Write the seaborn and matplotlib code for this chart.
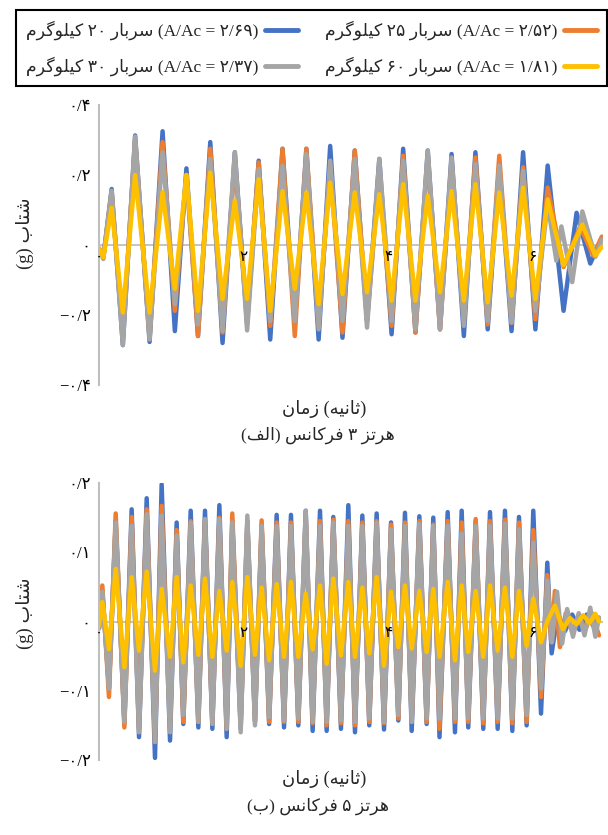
import pandas as pd
import numpy as np
import matplotlib
matplotlib.use('Agg')
import matplotlib.pyplot as plt
from matplotlib.lines import Line2D
import seaborn as sns

# ---- data: extremes of each trace (time s, acceleration g) ----
# (a) 3 Hz : shared times of the steady part, then each series' own decay
t3 = [0.0, 0.06, 0.175, 0.33, 0.50, 0.70, 0.88, 1.05, 1.21, 1.37, 1.54, 1.71, 1.88,
      2.05, 2.21, 2.37, 2.54, 2.71, 2.87, 3.04, 3.20, 3.37, 3.54, 3.71, 3.88, 4.05,
      4.21, 4.38, 4.55, 4.72, 4.88, 5.05, 5.21, 5.38, 5.54, 5.71, 5.87, 6.04, 6.21]

blue3 = [-0.01, -0.035, 0.16, -0.286, 0.313, -0.277, 0.325, -0.246, 0.219, -0.26, 0.294,
         -0.28, 0.265, -0.227, 0.241, -0.27, 0.275, -0.227, 0.275, -0.27, 0.283, -0.265,
         0.27, -0.217, 0.246, -0.255, 0.275, -0.25, 0.27, -0.241, 0.26, -0.26, 0.265,
         -0.241, 0.23, -0.246, 0.265, -0.241, 0.227]
blue3_tail_t = [6.43, 6.61, 6.80, 6.96]
blue3_tail = [-0.188, 0.092, -0.053, 0.02]

orange3 = [-0.01, -0.035, 0.15, -0.265, 0.30, -0.265, 0.294, -0.188, 0.20, -0.26, 0.275,
           -0.25, 0.246, -0.217, 0.236, -0.231, 0.275, -0.26, 0.275, -0.227, 0.227, -0.25,
           0.27, -0.217, 0.207, -0.231, 0.255, -0.25, 0.255, -0.241, 0.236, -0.217, 0.25,
           -0.227, 0.255, -0.222, 0.222, -0.212, 0.164]
orange3_tail_t = [6.43, 6.66, 6.84, 6.96]
orange3_tail = [-0.063, 0.053, -0.03, 0.024]

gray3 = [-0.01, -0.04, 0.155, -0.286, 0.31, -0.27, 0.265, -0.169, 0.2, -0.227, 0.246,
         -0.246, 0.265, -0.244, 0.217, -0.217, 0.227, -0.217, 0.26, -0.241, 0.241, -0.217,
         0.246, -0.236, 0.246, -0.217, 0.241, -0.241, 0.27, -0.241, 0.25, -0.231, 0.231,
         -0.217, 0.227, -0.222, 0.212, -0.188, 0.12]
gray3_tail_t = [6.33, 6.40, 6.55, 6.69, 6.87, 6.96]
gray3_tail = [-0.045, 0.053, -0.106, 0.096, -0.034, 0.015]

yellow3 = [-0.01, -0.035, 0.106, -0.193, 0.20, -0.193, 0.151, -0.125, 0.2, -0.188, 0.207,
           -0.154, 0.127, -0.154, 0.188, -0.188, 0.154, -0.125, 0.15, -0.169, 0.178, -0.14,
           0.15, -0.135, 0.145, -0.159, 0.174, -0.159, 0.14, -0.135, 0.154, -0.159, 0.174,
           -0.164, 0.15, -0.145, 0.164, -0.154, 0.13]
yellow3_tail_t = [6.43, 6.69, 6.87, 6.96]
yellow3_tail = [-0.058, 0.058, -0.03, -0.005]

# (b) 5 Hz
t5 = [0.0, 0.046, 0.138, 0.231, 0.351, 0.452, 0.554, 0.66, 0.775, 0.867, 0.983, 1.075,
      1.167, 1.269, 1.375, 1.467, 1.569, 1.666, 1.767, 1.845, 1.961, 2.053, 2.159, 2.251,
      2.355, 2.459, 2.561, 2.657, 2.759, 2.861, 2.957, 3.059, 3.151, 3.243, 3.349, 3.451,
      3.543, 3.645, 3.741, 3.843, 3.945, 4.042, 4.143, 4.235, 4.328, 4.434, 4.535, 4.627,
      4.713, 4.826, 4.927, 5.02, 5.111, 5.214, 5.319, 5.412, 5.518, 5.619, 5.721, 5.813,
      5.919, 6.011, 6.118, 6.205]

blue5 = [-0.01, 0.044, -0.097, 0.145, -0.147, 0.162, -0.167, 0.178, -0.197, 0.198, -0.172,
         0.143, -0.148, 0.16, -0.153, 0.16, -0.155, 0.168, -0.167, 0.145, -0.155, 0.145,
         -0.145, 0.14, -0.148, 0.154, -0.153, 0.154, -0.15, 0.16, -0.158, 0.16, -0.158,
         0.151, -0.155, 0.168, -0.16, 0.153, -0.15, 0.156, -0.156, 0.143, -0.143, 0.157,
         -0.158, 0.152, -0.148, 0.15, -0.167, 0.158, -0.16, 0.16, -0.153, 0.145, -0.155,
         0.158, -0.155, 0.16, -0.158, 0.151, -0.15, 0.16, -0.133, 0.085]
blue5_tail_t = [6.265, 6.35, 6.45, 6.55, 6.65, 6.75, 6.85, 6.92]
blue5_tail = [-0.046, 0.012, -0.014, 0.01, -0.012, 0.01, -0.008, 0.002]

orange5 = [-0.01, 0.052, -0.109, 0.156, -0.153, 0.151, -0.155, 0.162, -0.174, 0.167, -0.15,
           0.132, -0.145, 0.145, -0.145, 0.147, -0.147, 0.15, -0.155, 0.156, -0.15, 0.145,
           -0.143, 0.146, -0.145, 0.143, -0.145, 0.143, -0.145, 0.153, -0.147, 0.145, -0.15,
           0.147, -0.147, 0.145, -0.15, 0.143, -0.145, 0.145, -0.147, 0.14, -0.14, 0.143,
           -0.145, 0.145, -0.145, 0.14, -0.155, 0.145, -0.145, 0.143, -0.145, 0.148, -0.147,
           0.145, -0.145, 0.147, -0.147, 0.143, -0.145, 0.132, -0.109, 0.067]
orange5_tail_t = [6.26, 6.31, 6.38, 6.46, 6.55, 6.64, 6.73, 6.82, 6.92]
orange5_tail = [-0.03, 0.044, -0.037, 0.012, -0.015, 0.01, -0.012, 0.012, -0.02]

gray5 = [-0.01, 0.043, -0.097, 0.143, -0.145, 0.138, -0.16, 0.155, -0.174, 0.153, -0.16,
         0.124, -0.135, 0.143, -0.145, 0.148, -0.148, 0.148, -0.155, 0.143, -0.16, 0.153,
         -0.15, 0.138, -0.138, 0.138, -0.143, 0.138, -0.14, 0.16, -0.145, 0.138, -0.145,
         0.143, -0.143, 0.138, -0.145, 0.138, -0.14, 0.143, -0.145, 0.133, -0.135, 0.138,
         -0.145, 0.141, -0.14, 0.138, -0.14, 0.138, -0.14, 0.127, -0.14, 0.138, -0.14,
         0.138, -0.14, 0.141, -0.14, 0.133, -0.135, 0.114, -0.097, 0.059]
gray5_tail_t = [6.27, 6.34, 6.41, 6.48, 6.56, 6.64, 6.72, 6.8, 6.87, 6.92]
gray5_tail = [-0.03, 0.043, -0.032, 0.018, -0.022, 0.012, -0.02, 0.02, -0.022, 0.006]

yellow5 = [-0.005, 0.028, -0.04, 0.076, -0.066, 0.064, -0.042, 0.072, -0.071, 0.047, -0.051,
           0.064, -0.059, 0.052, -0.048, 0.062, -0.051, 0.044, -0.042, 0.057, -0.064, 0.064,
           -0.048, 0.049, -0.056, 0.054, -0.051, 0.057, -0.051, 0.04, -0.04, 0.052, -0.061,
           0.062, -0.049, 0.057, -0.051, 0.049, -0.046, 0.064, -0.064, 0.043, -0.037, 0.052,
           -0.039, 0.044, -0.044, 0.047, -0.051, 0.057, -0.056, 0.052, -0.044, 0.044, -0.051,
           0.052, -0.042, 0.049, -0.051, 0.044, -0.035, 0.033, -0.03, 0.0]
yellow5_tail_t = [6.31, 6.42, 6.52, 6.61, 6.7, 6.79, 6.87, 6.92]
yellow5_tail = [0.023, -0.011, 0.005, -0.004, 0.009, -0.002, 0.011, 0.0]

series_keys = ['20kg', '25kg', '30kg', '60kg']
colors = ['#4472C4', '#ED7D31', '#A5A5A5', '#FFC000']
ratios = ['۲/۶۹', '۲/۵۲', '۲/۳۷', '۱/۸۱']
loads = ['۲۰', '۲۵', '۳۰', '۶۰']
y3_ticks = [-0.4, -0.2, 0, 0.2, 0.4]
y3_labels = ['−۰/۴', '−۰/۲', '۰', '۰/۲', '۰/۴']
y5_ticks = [-0.2, -0.1, 0, 0.1, 0.2]
y5_labels = ['−۰/۲', '−۰/۱', '۰', '۰/۱', '۰/۲']
x_ticks = [0, 2, 4, 6]
x_labels = ['۰', '۲', '۴', '۶']

# ---- minimal Persian shaping: the fallback font path draws glyphs left to right as given ----
FORMS = {  # isolated, final, initial, medial
    'ا': ('\ufe8d', '\ufe8e', None, None),
    'ب': ('\ufe8f', '\ufe90', '\ufe91', '\ufe92'),
    'ت': ('\ufe95', '\ufe96', '\ufe97', '\ufe98'),
    'ث': ('\ufe99', '\ufe9a', '\ufe9b', '\ufe9c'),
    'ر': ('\ufead', '\ufeae', None, None),
    'ز': ('\ufeaf', '\ufeb0', None, None),
    'س': ('\ufeb1', '\ufeb2', '\ufeb3', '\ufeb4'),
    'ش': ('\ufeb5', '\ufeb6', '\ufeb7', '\ufeb8'),
    'ف': ('\ufed1', '\ufed2', '\ufed3', '\ufed4'),
    'ل': ('\ufedd', '\ufede', '\ufedf', '\ufee0'),
    'م': ('\ufee1', '\ufee2', '\ufee3', '\ufee4'),
    'ن': ('\ufee5', '\ufee6', '\ufee7', '\ufee8'),
    'ه': ('\ufee9', '\ufeea', '\ufeeb', '\ufeec'),
    'و': ('\ufeed', '\ufeee', None, None),
    'ک': ('\ufb8e', '\ufb8f', '\ufb90', '\ufb91'),
    'گ': ('\ufb92', '\ufb93', '\ufb94', '\ufb95'),
    'ی': ('\ufbfc', '\ufbfd', '\ufbfe', '\ufbff'),
}


def fa(word):
    # shape one Persian word and return it in visual (left-to-right) order
    out = []
    for i, ch in enumerate(word):
        f = FORMS[ch]
        prev = i > 0 and FORMS[word[i - 1]][2] is not None
        nxt = i < len(word) - 1 and f[2] is not None
        if prev and nxt:
            out.append(f[3])
        elif prev:
            out.append(f[1])
        elif nxt:
            out.append(f[2])
        else:
            out.append(f[0])
    return ''.join(reversed(out))


def frame(parts):
    rows = []
    for key, t, a in parts:
        rows.append(pd.DataFrame({'t': t, 'a': a, 's': key}))
    return pd.concat(rows, ignore_index=True)


df3 = frame([
    ('20kg', t3 + blue3_tail_t, blue3 + blue3_tail),
    ('25kg', t3 + orange3_tail_t, orange3 + orange3_tail),
    ('30kg', t3 + gray3_tail_t, gray3 + gray3_tail),
    ('60kg', t3 + yellow3_tail_t, yellow3 + yellow3_tail),
])
df5 = frame([
    ('20kg', t5 + blue5_tail_t, blue5 + blue5_tail),
    ('25kg', t5 + orange5_tail_t, orange5 + orange5_tail),
    ('30kg', t5 + gray5_tail_t, gray5 + gray5_tail),
    ('60kg', t5 + yellow5_tail_t, yellow5 + yellow5_tail),
])

sns.set_theme(style='white')
plt.rcParams['font.family'] = ['Liberation Serif', 'DejaVu Sans']

fig = plt.figure(figsize=(6.08, 8.35), dpi=100)
ax3 = fig.add_axes([99 / 608, 1 - 385 / 835, 504 / 608, 280 / 835])
ax5 = fig.add_axes([99 / 608, 1 - 760 / 835, 504 / 608, 277 / 835])

palette = dict(zip(series_keys, colors))
for ax, df, yt, yl, lim in [(ax3, df3, y3_ticks, y3_labels, 0.4),
                            (ax5, df5, y5_ticks, y5_labels, 0.2)]:
    ax.axhline(0, color='#BFBFBF', lw=1.3, zorder=1)
    sns.lineplot(data=df, x='t', y='a', hue='s', hue_order=series_keys, palette=palette,
                 estimator=None, sort=True, linewidth=3.2, legend=False, ax=ax,
                 solid_joinstyle='round', solid_capstyle='round')
    ax.set_xlim(0, 6.976)
    ax.set_ylim(-lim, lim)
    ax.set_yticks(yt)
    ax.set_yticklabels(yl, fontsize=12)
    ax.set_xticks(x_ticks)
    ax.set_xticklabels(x_labels, fontsize=12)
    ax.tick_params(length=0, pad=6, colors='black')
    ax.tick_params(axis='x', pad=4)
    for side in ['top', 'right']:
        ax.spines[side].set_visible(False)
    ax.spines['bottom'].set_position(('data', 0))
    ax.spines['bottom'].set_visible(False)
    ax.spines['left'].set_color('#BFBFBF')
    ax.spines['left'].set_linewidth(1.5)
    ax.set_xlabel('')
    ax.set_ylabel('')
    ax.patch.set_alpha(0)
    ax.xaxis.set_zorder(5)

ylab = '(g) ' + fa('شتاب')
xlab = fa('زمان') + ' (' + fa('ثانیه') + ')'
fig.text(25 / 608, 1 - 233 / 835, ylab, rotation=90, ha='center', va='center', fontsize=13.5)
fig.text(25 / 608, 1 - 613 / 835, ylab, rotation=90, ha='center', va='center', fontsize=13.5)
fig.text(324 / 608, 1 - 409 / 835, xlab, ha='center', va='center', fontsize=13)
fig.text(324 / 608, 1 - 779 / 835, xlab, ha='center', va='center', fontsize=13)
fig.text(318 / 608, 1 - 435 / 835,
         '(' + fa('الف') + ') ' + fa('فرکانس') + ' ۳ ' + fa('هرتز'),
         ha='center', va='center', fontsize=12.5)
fig.text(318 / 608, 1 - 806 / 835,
         '(' + fa('ب') + ') ' + fa('فرکانس') + ' ۵ ' + fa('هرتز'),
         ha='center', va='center', fontsize=12.5)

labels = [fa('کیلوگرم') + ' ' + ld + ' ' + fa('سربار') + ' (A/Ac = ' + r + ')'
          for ld, r in zip(loads, ratios)]
handles = [Line2D([], [], color=c, lw=3.5, solid_capstyle='round') for c in colors]
order = [0, 2, 1, 3]
leg = fig.legend([handles[i] for i in order], [labels[i] for i in order], ncol=2,
                 markerfirst=False, loc='upper left',
                 bbox_to_anchor=(16 / 608, 1 - 88 / 835, 591 / 608, 78 / 835),
                 mode='expand', borderaxespad=0, fancybox=False, edgecolor='black',
                 framealpha=1, fontsize=12.5, handlelength=1.9, borderpad=0.6,
                 labelspacing=0.95, handletextpad=0.35, columnspacing=0.8)
leg.get_frame().set_linewidth(1.5)

fig.savefig('out.png', dpi=100)
